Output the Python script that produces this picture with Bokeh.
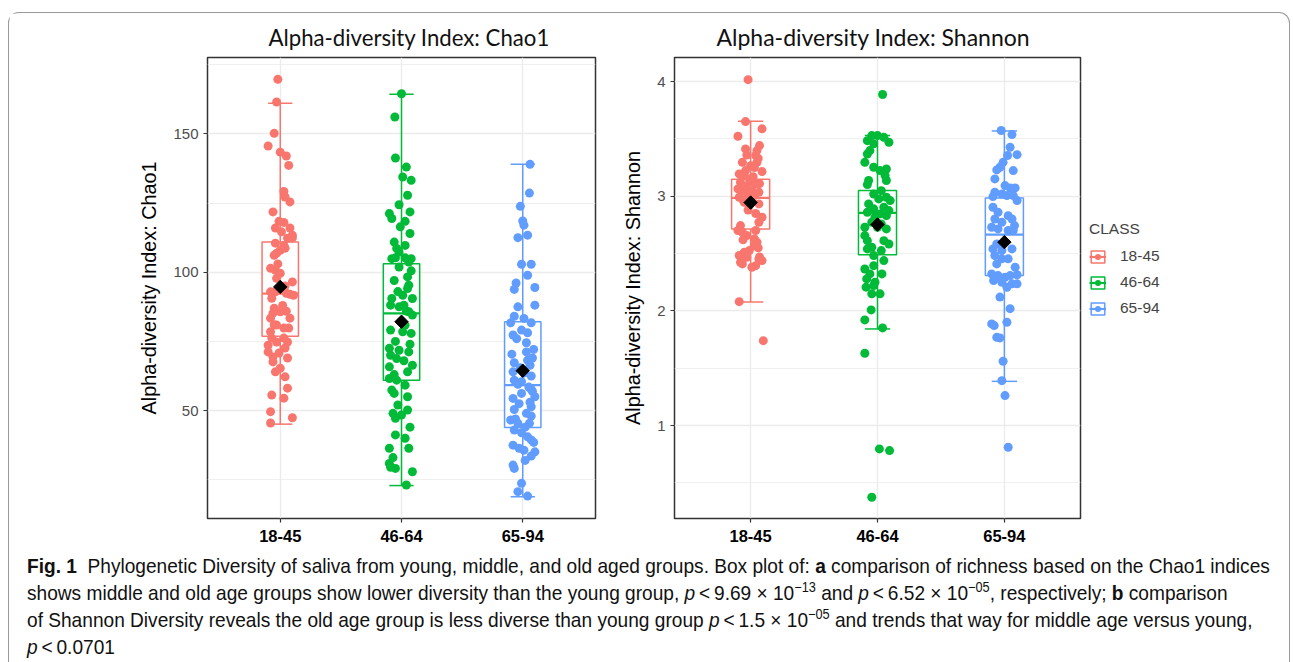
import numpy as np
from bokeh.plotting import figure
from bokeh.models import Range1d, FixedTicker, Legend, LegendItem, Div
from bokeh.layouts import row, column
from bokeh.embed import file_html
from bokeh.resources import INLINE

CLASSES = ["18-45", "46-64", "65-94"]
COLORS = ["#F8766D", "#00BA38", "#619CFF"]

# ---------------- Chao1 ----------------
chao_1845 = [169.7, 161.5, 150.2, 145.6, 143.4, 142.0, 138.6, 129.2, 127.2, 125.4, 121.8, 118.4, 118.0, 116.0,
             116.0, 114.6, 113.4, 112.3, 110.5, 109.7, 112.4, 106.9, 107.9, 108.7, 106.1, 101.4, 100.7, 99.6,
             97.8, 96.5, 92.9, 92.9, 90.6, 92.0, 91.7, 92.4, 85.7, 85.9, 83.4, 85.2, 83.4, 79.8, 79.8, 80.9,
             78.5, 76.2, 76.2, 73.6, 74.8, 74.8, 71.2, 72.6, 70.8, 69.4, 69.0, 67.6, 65.3, 64.0, 62.2, 58.1,
             54.5, 55.6, 49.6, 47.4, 45.5, 88.0, 87.0, 95.0, 103.0, 81.0]
chao_1845_jitter = [-0.02, -0.03, -0.05, -0.10, 0.00, 0.05, 0.07, 0.03, 0.04, 0.08, -0.06, -0.01, 0.03, -0.04,
                    0.08, 0.01, 0.10, 0.06, -0.04, 0.03, 0.10, -0.03, 0.00, 0.04, -0.05, -0.08, -0.04, 0.00,
                    -0.03, 0.10, -0.08, -0.04, -0.07, 0.08, 0.11, 0.05, 0.00, 0.05, 0.08, -0.06, -0.08, 0.03,
                    0.07, -0.03, -0.08, -0.07, 0.03, -0.10, -0.03, 0.06, -0.10, 0.04, -0.01, -0.06, 0.06, -0.06,
                    0.00, -0.04, 0.04, 0.06, 0.03, -0.07, -0.08, 0.10, -0.08, 0.02, -0.05, 0.04, -0.02, -0.05]

chao_4664 = [164.5, 156.1, 141.3, 138.0, 134.4, 133.2, 127.8, 124.4, 121.2, 119.4, 121.8, 118.4, 116.4, 114.0,
             110.9, 109.7, 108.6, 107.3, 104.9, 105.2, 105.2, 104.9, 101.9, 103.7, 98.3, 95.3, 90.5, 91.7,
             94.1, 90.5, 88.1, 88.1, 87.5, 85.7, 84.5, 82.1, 80.9, 77.9, 79.1, 78.5, 72.5, 71.8, 70.0, 71.2,
             66.4, 68.8, 64.0, 65.8, 61.6, 61.0, 59.2, 57.4, 56.2, 49.0, 47.2, 50.2, 48.4, 41.2, 40.0, 36.4,
             36.4, 30.9, 29.1, 27.9, 23.1, 100.5, 97.0, 93.0, 86.0, 75.0, 74.0, 68.0, 63.0, 55.0, 52.0, 44.0,
             33.0, 29.5]
chao_4664_jitter = [0.0, -0.055, -0.05, 0.04, 0.01, 0.08, 0.05, -0.02, -0.10, -0.08, 0.07, 0.03, -0.01, 0.07,
                    -0.06, 0.03, -0.04, -0.02, -0.08, -0.05, 0.03, 0.08, -0.02, 0.06, 0.05, 0.06, -0.08, 0.01,
                    0.05, 0.09, 0.02, -0.09, -0.02, 0.06, 0.09, 0.0, 0.03, 0.08, -0.09, 0.01, -0.10, -0.02,
                    -0.09, 0.06, 0.09, -0.04, 0.05, -0.10, -0.10, -0.04, 0.03, -0.08, -0.06, -0.07, -0.05, 0.05,
                    0.0, -0.05, 0.03, 0.06, -0.10, -0.10, -0.05, 0.09, 0.04, 0.08, -0.06, -0.03, 0.04, -0.05,
                    0.07, 0.02, -0.06, 0.05, -0.03, 0.07, -0.07, -0.09]

chao_6594 = [139.0, 128.6, 123.8, 118.5, 117.0, 112.5, 113.4, 102.9, 102.9, 98.9, 96.1, 94.5, 93.8, 87.5, 88.1,
             84.1, 83.3, 81.7, 81.7, 79.1, 78.1, 77.3, 72.1, 71.2, 70.4, 67.3, 68.2, 66.4, 64.0, 63.6, 61.0,
             60.4, 54.4, 56.2, 57.6, 55.0, 51.4, 49.0, 50.4, 46.6, 45.4, 45.4, 43.0, 42.0, 40.5, 39.4, 37.5,
             36.4, 35.7, 35.1, 33.6, 30.3, 29.1, 23.7, 20.7, 19.1, 58.5, 57.0, 53.0, 52.5, 48.0, 47.0, 59.5,
             62.5, 74.5, 76.0, 65.5, 69.0, 32.0, 38.5, 44.0]
chao_6594_jitter = [0.06, 0.055, -0.02, 0.0, 0.01, -0.04, 0.04, -0.01, 0.07, 0.04, -0.055, 0.10, -0.07, -0.04,
                    0.10, -0.07, 0.01, 0.07, -0.10, -0.01, 0.04, -0.08, 0.09, 0.03, -0.09, -0.07, 0.04, 0.06,
                    -0.08, 0.01, -0.07, -0.01, -0.08, -0.01, 0.07, 0.10, 0.07, 0.03, -0.07, -0.10, -0.04, 0.055,
                    -0.07, -0.01, 0.04, 0.07, -0.08, -0.03, 0.01, 0.10, 0.07, -0.08, -0.07, -0.01, -0.04, 0.04,
                    0.05, 0.08, 0.06, -0.03, 0.07, -0.06, -0.04, 0.07, 0.03, -0.05, -0.02, 0.08, 0.02, 0.09, 0.02]

chao_q1 = [76.9, 61.0, 43.9]
chao_median = [92.3, 85.1, 59.2]
chao_q3 = [110.9, 103.1, 82.1]
chao_low = [45.1, 22.9, 18.9]
chao_high = [161.1, 164.3, 139.0]
chao_mean = [94.7, 82.1, 64.4]
chao_ticks = [50, 100, 150]
chao_minor = [25, 75, 125, 175]

# ---------------- Shannon ----------------
shan_1845 = [4.017, 3.651, 3.588, 3.523, 3.442, 3.398, 3.413, 3.355, 3.296, 3.267, 3.224, 3.296, 3.215, 3.195,
             3.180, 3.151, 3.122, 3.108, 3.122, 3.064, 3.049, 3.035, 3.035, 3.006, 2.991, 2.947, 2.919, 2.933,
             2.817, 2.773, 2.744, 2.701, 2.686, 2.701, 2.628, 2.599, 2.657, 2.570, 2.526, 2.512, 2.483, 2.424,
             2.454, 2.468, 2.439, 2.395, 2.381, 2.410, 2.081, 1.741, 3.17, 3.09, 3.00, 2.97, 3.11, 3.25, 2.88,
             2.85, 3.05, 2.62, 2.55, 2.47, 3.33, 3.36]
shan_1845_jitter = [-0.02, -0.04, 0.09, -0.10, 0.07, 0.05, -0.04, 0.04, -0.065, 0.0, -0.04, 0.05, 0.09, -0.09,
                    -0.05, -0.01, 0.01, 0.04, -0.08, -0.10, -0.07, -0.03, 0.065, 0.03, -0.09, -0.05, -0.01, 0.065,
                    0.09, 0.065, -0.08, -0.10, -0.065, 0.04, 0.03, 0.05, -0.03, 0.03, -0.01, -0.05, -0.09, -0.08,
                    0.065, -0.03, 0.09, 0.04, 0.01, -0.065, -0.09, 0.10, 0.02, -0.04, 0.0, -0.06, 0.07, 0.03,
                    -0.02, 0.04, 0.01, -0.06, 0.06, 0.07, 0.06, -0.03]

shan_4664 = [3.887, 3.529, 3.529, 3.514, 3.471, 3.485, 3.457, 3.398, 3.369, 3.296, 3.253, 3.238, 3.224, 3.180,
             3.137, 3.137, 3.102, 3.049, 3.020, 2.991, 2.977, 2.962, 2.933, 2.904, 2.890, 2.875, 2.861, 2.846,
             2.817, 2.831, 2.773, 2.759, 2.730, 2.730, 2.715, 2.657, 2.613, 2.613, 2.584, 2.555, 2.526, 2.541,
             2.439, 2.483, 2.395, 2.366, 2.323, 2.323, 2.279, 2.250, 2.207, 2.149, 2.149, 2.221, 2.009, 1.922,
             1.852, 1.631, 0.797, 0.782, 0.375]
shan_4664_jitter = [0.04, -0.045, 0.0, 0.05, 0.09, -0.08, -0.03, -0.06, -0.08, -0.10, -0.03, 0.07, 0.02, 0.06,
                    0.07, -0.07, -0.08, 0.03, -0.03, 0.07, 0.01, 0.10, -0.07, 0.05, -0.03, 0.09, -0.08, 0.02,
                    -0.02, 0.07, -0.045, 0.03, -0.10, 0.0, 0.07, -0.10, -0.08, 0.05, 0.09, -0.045, 0.03, -0.08,
                    0.05, -0.03, -0.03, -0.10, -0.06, 0.035, -0.085, -0.02, -0.09, -0.045, 0.02, -0.03, -0.05,
                    -0.10, 0.04, -0.10, 0.015, 0.095, -0.045]

shan_6594 = [3.573, 3.538, 3.427, 3.355, 3.363, 3.296, 3.253, 3.230, 3.224, 3.151, 3.093, 3.073, 3.073, 3.035,
             3.020, 2.997, 3.006, 3.006, 2.962, 2.904, 2.861, 2.831, 2.802, 2.802, 2.773, 2.744, 2.730, 2.715,
             2.701, 2.701, 2.584, 2.541, 2.526, 2.541, 2.483, 2.454, 2.454, 2.381, 2.410, 2.323, 2.308, 2.294,
             2.308, 2.316, 2.265, 2.250, 2.236, 2.236, 2.207, 2.121, 2.020, 1.887, 1.872, 1.901, 1.770, 1.765,
             1.561, 1.392, 1.262, 0.811]
shan_6594_jitter = [-0.025, 0.06, 0.045, 0.025, 0.10, -0.01, -0.035, -0.06, 0.07, -0.075, 0.005, 0.085, 0.045,
                    -0.075, -0.02, -0.09, 0.02, 0.07, 0.10, -0.09, -0.05, 0.03, 0.06, -0.075, -0.02, 0.08, -0.10,
                    -0.05, 0.03, 0.07, -0.06, -0.09, -0.02, 0.06, -0.075, -0.02, 0.03, 0.085, -0.06, -0.10,
                    -0.05, 0.005, 0.045, 0.10, -0.085, -0.02, 0.06, 0.10, 0.02, -0.035, 0.045, -0.10, -0.08,
                    0.02, -0.06, -0.035, -0.01, -0.02, 0.005, 0.03]

shan_q1 = [2.715, 2.49, 2.308]
shan_median = [2.986, 2.855, 2.666]
shan_q3 = [3.148, 3.05, 2.985]
shan_low = [2.078, 1.843, 1.386]
shan_high = [3.654, 3.53, 3.57]
shan_mean = [2.945, 2.753, 2.60]
shan_ticks = [1, 2, 3, 4]
shan_minor = [0.5, 1.5, 2.5, 3.5]

TXT = "Liberation Sans"
BOX_HALF = 0.15
CAP_HALF = 0.1
FIG_H = 539
PT_SIZE = 9


def draw_group(p, i, q1, med, q3, lo, hi, vals=None, jits=None):
    x = i + 1
    c = COLORS[i]
    p.segment(x0=[x], y0=[lo[i]], x1=[x], y1=[hi[i]], line_color=c, line_width=1.5)
    p.segment(x0=[x - CAP_HALF, x - CAP_HALF], y0=[lo[i], hi[i]],
              x1=[x + CAP_HALF, x + CAP_HALF], y1=[lo[i], hi[i]], line_color=c, line_width=1.5)
    rb = p.quad(left=[x - BOX_HALF], right=[x + BOX_HALF], bottom=[q1[i]], top=[q3[i]],
                fill_color="white", line_color=c, line_width=1.5)
    rm = p.segment(x0=[x - BOX_HALF], y0=[med[i]], x1=[x + BOX_HALF], y1=[med[i]],
                   line_color=c, line_width=2.2)
    if vals is None:
        rp = p.scatter(x=[x], y=[med[i]], size=PT_SIZE, fill_color=c, line_color=None)
    else:
        xs = [x + j for j, _ in zip(jits[i], vals[i])]
        ys = [v for _, v in zip(jits[i], vals[i])]
        rp = p.scatter(x=xs, y=ys, size=PT_SIZE, fill_color=c, line_color=None)
    return [rb, rm, rp]


def panel(title, ylabel, vals, jits, q1, med, q3, lo, hi, mean, yrange, ticks, minors,
          width, mbl, mbr, title_size, title_offset):
    p = figure(width=width, height=FIG_H, x_range=Range1d(0.4, 3.6), y_range=Range1d(*yrange),
               output_backend="svg", toolbar_location=None,
               min_border_left=mbl, min_border_right=mbr, min_border_top=44, min_border_bottom=34)
    p.title.text = title
    p.title.align = "left"
    p.title.text_font = "Lato"
    p.title.text_font_size = title_size
    p.title.text_font_style = "normal"
    p.title.text_color = "#111111"
    p.title.standoff = 14
    p.title.offset = title_offset
    p.outline_line_color = "#333333"
    p.outline_line_width = 1.5

    p.xaxis.ticker = FixedTicker(ticks=[1, 2, 3])
    p.xaxis.major_label_overrides = {1: CLASSES[0], 2: CLASSES[1], 3: CLASSES[2]}
    p.yaxis.ticker = FixedTicker(ticks=ticks, minor_ticks=minors)
    for ax in (p.xaxis, p.yaxis):
        ax.axis_line_color = None
        ax.major_tick_line_color = "#333333"
        ax.major_tick_line_width = 1.2
        ax.major_tick_in = 0
        ax.major_tick_out = 4
        ax.minor_tick_line_color = None
        ax.major_label_text_font = TXT
    p.xaxis.major_label_text_font_size = "16.5px"
    p.xaxis.major_label_text_font_style = "bold"
    p.xaxis.major_label_text_color = "#000000"
    p.xaxis.major_label_standoff = 7
    p.yaxis.major_label_text_font_size = "15px"
    p.yaxis.major_label_text_color = "#4D4D4D"
    p.yaxis.major_label_standoff = 5
    p.yaxis.axis_label = ylabel
    p.yaxis.axis_label_text_font = TXT
    p.yaxis.axis_label_text_font_size = "19.8px"
    p.yaxis.axis_label_text_font_style = "normal"
    p.yaxis.axis_label_text_color = "#000000"
    p.yaxis.axis_label_standoff = 10

    p.xgrid.grid_line_color = "#EBEBEB"
    p.xgrid.grid_line_width = 1.3
    p.ygrid.grid_line_color = "#EBEBEB"
    p.ygrid.grid_line_width = 1.3
    p.ygrid.minor_grid_line_color = "#EBEBEB"
    p.ygrid.minor_grid_line_width = 0.8

    for i in range(3):
        draw_group(p, i, q1, med, q3, lo, hi, vals, jits)
    p.scatter(x=[1, 2, 3], y=mean, marker="square", angle=np.pi / 4, size=9.5,
              fill_color="black", line_color="black")
    return p


p1 = panel("Alpha-diversity Index: Chao1", "Alpha-diversity Index: Chao1",
           [chao_1845, chao_4664, chao_6594], [chao_1845_jitter, chao_4664_jitter, chao_6594_jitter],
           chao_q1, chao_median, chao_q3, chao_low, chao_high, chao_mean,
           (11.0, 177.6), chao_ticks, chao_minor, 601, 198, 15, "22.2px", 61)
p2 = panel("Alpha-diversity Index: Shannon", "Alpha-diversity Index: Shannon",
           [shan_1845, shan_4664, shan_6594], [shan_1845_jitter, shan_4664_jitter, shan_6594_jitter],
           shan_q1, shan_median, shan_q3, shan_low, shan_high, shan_mean,
           (0.19, 4.21), shan_ticks, shan_minor, 475, 64, 5, "23px", 42)

# legend panel: the key glyphs reuse the Shannon box statistics, drawn outside the visible range
pl = figure(width=112, height=FIG_H, x_range=Range1d(10, 11), y_range=Range1d(0.19, 4.21),
            output_backend="svg", toolbar_location=None, min_border=0,
            min_border_left=0, min_border_right=0, min_border_top=0, min_border_bottom=0)
pl.axis.visible = False
pl.grid.visible = False
pl.outline_line_color = None
items = []
for i in range(3):
    rs = draw_group(pl, i, shan_q1, shan_median, shan_q3, shan_low, shan_high)
    items.append(LegendItem(label=CLASSES[i], renderers=rs))
lg = Legend(items=items, title="CLASS", location=(4, 201), margin=0, padding=5,
            border_line_color=None, background_fill_alpha=0,
            glyph_width=17, glyph_height=15, label_height=15, spacing=8,
            label_text_font=TXT, label_text_font_size="15.5px", label_standoff=14,
            title_text_font=TXT, title_text_font_size="15.5px", title_text_font_style="normal",
            title_standoff=9)
pl.add_layout(lg, "center")

caption_html = (
    '<div style="font-family: \'Liberation Sans\', sans-serif; transform: scaleX(0.91); '
    'transform-origin: 0 0; font-size: 21px; line-height: 27px; color: #111; white-space: nowrap;">'
    '<b>Fig. 1</b>&nbsp; Phylogenetic Diversity of saliva from young, middle, and old aged groups. '
    'Box plot of: <b>a</b> comparison of richness based on the Chao1 indices<br>'
    'shows middle and old age groups show lower diversity than the young group, '
    '<i>p</i>&thinsp;&lt;&thinsp;9.69 &times; 10<sup style="line-height:0;font-size:14px">&minus;13</sup> and '
    '<i>p</i>&thinsp;&lt;&thinsp;6.52 &times; 10<sup style="line-height:0;font-size:14px">&minus;05</sup>, respectively; '
    '<b>b</b> comparison<br>'
    'of Shannon Diversity reveals the old age group is less diverse than young group '
    '<i>p</i>&thinsp;&lt;&thinsp;1.5 &times; 10<sup style="line-height:0;font-size:14px">&minus;05</sup> and trends that way '
    'for middle age versus young,<br>'
    '<i>p</i>&thinsp;&lt;&thinsp;0.0701</div>'
)
cap = Div(text=caption_html, width=1262, height=110, margin=(0, 0, 0, 18))

layout = column(row(p1, p2, pl), cap, width=1282, height=650, margin=(12, 0, 0, 8),
                styles={"border": "1px solid #9a9a9a", "border-bottom": "none",
                        "border-radius": "11px 11px 0 0"})

open("out.html", "w").write(file_html(layout, INLINE))
